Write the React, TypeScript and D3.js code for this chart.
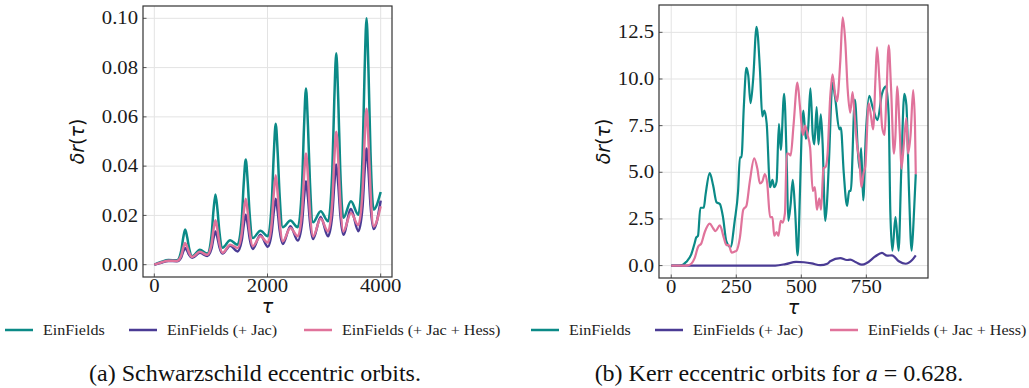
import React, { useRef, useEffect } from 'react';
import * as d3 from 'd3';

// (a) Schwarzschild eccentric orbits
const schwTau = [
  0, 120, 250, 400,
  475, 510, 545, 580, 615, 670, 805, 935,
  1010, 1045, 1080, 1115, 1150, 1205, 1340, 1470,
  1545, 1580, 1615, 1650, 1685, 1740, 1875, 2005,
  2075, 2110, 2145, 2180, 2215, 2270, 2405, 2535,
  2610, 2645, 2680, 2715, 2750, 2805, 2940, 3070,
  3145, 3180, 3215, 3250, 3285, 3340, 3475, 3605,
  3680, 3715, 3750, 3785, 3820, 3875, 4000,
];
const schwEinFields = [
  0, 0.0011, 0.0019, 0.0018,
  0.0056, 0.0108, 0.0143, 0.0112, 0.0067, 0.0034, 0.0061, 0.0045,
  0.0117, 0.0218, 0.0285, 0.0225, 0.0134, 0.0069, 0.0099, 0.0081,
  0.0185, 0.033, 0.0427, 0.0338, 0.0204, 0.0108, 0.0138, 0.0115,
  0.0252, 0.0444, 0.0572, 0.0454, 0.0278, 0.0152, 0.0179, 0.0152,
  0.0321, 0.0557, 0.0715, 0.0563, 0.0335, 0.0172, 0.0217, 0.0176,
  0.0381, 0.0667, 0.0858, 0.0671, 0.039, 0.019, 0.0257, 0.0203,
  0.0442, 0.0777, 0.1, 0.0783, 0.0457, 0.0224, 0.0295,
];
const schwJac = [
  0, 0.0008, 0.0015, 0.0014,
  0.003, 0.0053, 0.0068, 0.0057, 0.004, 0.0028, 0.0048, 0.0035,
  0.0065, 0.0107, 0.0135, 0.011, 0.0072, 0.0045, 0.0077, 0.0054,
  0.0099, 0.0161, 0.0203, 0.0164, 0.0106, 0.0064, 0.0122, 0.0073,
  0.0132, 0.0213, 0.0268, 0.0216, 0.0139, 0.0084, 0.0156, 0.0098,
  0.017, 0.0272, 0.0339, 0.0273, 0.0175, 0.0104, 0.0194, 0.0115,
  0.0203, 0.0325, 0.0407, 0.0327, 0.0208, 0.0122, 0.0226, 0.0136,
  0.0237, 0.0378, 0.0472, 0.038, 0.0243, 0.0145, 0.026,
];
const schwJacHess = [
  0, 0.0009, 0.0016, 0.0015,
  0.0037, 0.0068, 0.0088, 0.0072, 0.0048, 0.0031, 0.0052, 0.004,
  0.0082, 0.0141, 0.018, 0.0143, 0.0088, 0.0048, 0.0081, 0.0068,
  0.0128, 0.0212, 0.0268, 0.0214, 0.0133, 0.0075, 0.0115, 0.009,
  0.0172, 0.0287, 0.0363, 0.0288, 0.0175, 0.0095, 0.0149, 0.0115,
  0.0216, 0.0357, 0.0451, 0.0357, 0.0216, 0.0115, 0.0186, 0.0135,
  0.0257, 0.0427, 0.054, 0.0427, 0.0257, 0.0135, 0.021, 0.016,
  0.0302, 0.0501, 0.0633, 0.0499, 0.0299, 0.0156, 0.0237,
];

// (b) Kerr eccentric orbits, a = 0.628
const kerrTauEinFields = [
  0, 30, 45, 58, 77, 90, 96, 103, 112, 125,
  132, 148, 161, 174, 187, 199, 212, 228, 244, 257,
  264, 270, 279, 289, 296, 305, 315, 328, 341, 350,
  358, 367, 380, 389, 396, 405, 414, 421, 434, 444,
  450, 459, 467, 476, 486, 495, 501, 508, 517, 526,
  535, 544, 550, 559, 566, 575, 582, 592, 598, 606,
  620, 630, 646, 652, 663, 676, 684, 690, 706, 718,
  724, 730, 738, 748, 761, 774, 793, 810, 826, 836,
  842, 850, 862, 874, 884, 896, 904, 914, 924, 932,
  940,
];
const kerrEinFields = [
  0, 0, 0.05, 0.2, 0.6, 1.2, 1.5, 1.6, 3.1, 3.1,
  3.8, 4.95, 4.3, 3.4, 3.3, 2.6, 1.3, 1.0, 2.4, 4.0,
  5.8, 5.8, 8.5, 10.6, 10.2, 8.7, 10.0, 12.8, 10.5, 8.0,
  8.3, 7.6, 4.2, 4.6, 4.2, 4.5, 7.6, 6.2, 9.2, 5.5,
  2.4, 3.3, 4.6, 3.0, 0.55, 4.0, 7.0, 8.3, 6.8, 7.3,
  9.5, 7.0, 6.5, 8.5, 6.5, 8.1, 6.5, 2.4, 3.2, 5.5,
  9.8, 9.0, 7.3, 7.4, 5.0, 3.2, 4.0, 4.0, 8.9, 6.0,
  5.2, 6.3, 3.5, 7.0, 9.1, 8.5, 7.8, 9.2, 9.6, 8.0,
  3.0, 0.8, 2.6, 0.8, 5.0, 9.2, 8.6, 4.0, 0.8, 2.5,
  4.9,
];
const kerrTauJac = [0, 100, 200, 300, 400, 440, 480, 510, 540, 573, 600, 611, 650, 675, 688, 710, 733, 753, 785, 810, 830, 849, 875, 901, 926, 940];
const kerrJac = [0, 0, 0, 0, 0, 0.08, 0.2, 0.18, 0.12, 0.02, 0.1, 0.23, 0.4, 0.3, 0.32, 0.18, 0.05, 0.15, 0.5, 0.68, 0.53, 0.55, 0.23, 0.1, 0.3, 0.55];
const kerrTauJacHess = [
  0, 60, 77, 90, 103, 116, 129, 148, 161, 170,
  187, 202, 212, 221, 232, 244, 251, 264, 277, 289,
  302, 319, 331, 341, 350, 360, 369, 380, 389, 396,
  405, 412, 421, 428, 437, 444, 450, 459, 470, 485,
  495, 506, 515, 524, 534, 544, 552, 560, 569, 576,
  585, 594, 601, 611, 620, 630, 637, 650, 659, 669,
  678, 688, 697, 705, 714, 724, 731, 740, 746, 759,
  768, 776, 785, 791, 800, 811, 820, 827, 836, 845,
  856, 862, 868, 879, 885, 894, 904, 910, 920, 930,
  937, 940,
];
const kerrJacHess = [
  0, 0, 0.1, 0.4, 1.0, 1.2, 1.8, 2.25, 2.0, 1.85,
  2.15, 1.5, 1.1, 1.1, 0.7, 0.75, 0.8, 1.5, 3.0, 3.2,
  4.5, 5.75, 5.2, 4.4, 4.5, 4.9, 4.4, 2.6, 2.6, 1.6,
  1.8, 1.6, 2.4, 2.3, 2.8, 6.0, 6.0, 5.9, 7.5, 9.8,
  8.5, 7.0, 7.5, 7.0, 6.3, 4.0, 4.2, 3.0, 3.6, 3.0,
  5.2, 5.3, 6.0, 9.0, 10.25, 9.2, 8.8, 11.0, 13.3, 12.0,
  9.5, 8.2, 9.3, 8.0, 6.5, 5.5, 4.2, 5.0, 5.3, 8.7,
  8.0, 7.3, 10.0, 11.7, 10.0, 7.4, 7.0, 9.0, 11.8, 9.5,
  6.0, 7.0, 9.6, 7.0, 5.2, 6.5, 7.9, 6.0, 7.0, 9.4,
  7.5, 4.9,
];

const seriesNames = ['EinFields', 'EinFields (+ Jac)', 'EinFields (+ Jac + Hess)'];
const seriesColors = ['#0b8a87', '#4a3b94', '#e0739b'];

const schwXTicks = [0, 2000, 4000];
const schwYTicks = [0, 0.02, 0.04, 0.06, 0.08, 0.1];
const kerrXTicks = [0, 250, 500, 750];
const kerrYTicks = [0, 2.5, 5, 7.5, 10, 12.5];

// the wide serif of the original isn't available; stretch Liberation Serif a bit
const serifFont = "'Liberation Serif', serif";
const stretch = 1.15;

type Series = { tau: number[]; val: number[]; color: string };

const drawPanel = (
  svg: d3.Selection<SVGSVGElement, unknown, null, undefined>,
  box: { x0: number; x1: number; y0: number; y1: number },
  series: Series[],
  xTicks: number[],
  yTicks: number[],
  yFmt: (n: number) => string,
  lineWidth: number,
  yLabelGap: number,
) => {
  // matplotlib-like 5% margins
  const allTau = series.flatMap(s => s.tau);
  const allVal = series.flatMap(s => s.val);
  const [tx0, tx1] = d3.extent(allTau) as [number, number];
  const [vy0, vy1] = d3.extent(allVal) as [number, number];
  const mx = (tx1 - tx0) * 0.05;
  const my = (vy1 - vy0) * 0.05;

  const x = d3.scaleLinear().domain([tx0 - mx, tx1 + mx]).range([box.x0, box.x1]);
  const y = d3.scaleLinear().domain([vy0 - my, vy1 + my]).range([box.y1, box.y0]);

  const g = svg.append('g');

  // grid
  g.selectAll('.gx').data(xTicks).enter().append('line')
    .attr('x1', d => x(d)).attr('x2', d => x(d))
    .attr('y1', box.y0).attr('y2', box.y1)
    .attr('stroke', '#e3e3e3').attr('stroke-width', 1);
  g.selectAll('.gy').data(yTicks).enter().append('line')
    .attr('x1', box.x0).attr('x2', box.x1)
    .attr('y1', d => y(d)).attr('y2', d => y(d))
    .attr('stroke', '#e3e3e3').attr('stroke-width', 1);

  // lines
  const line = d3.line<[number, number]>()
    .x(d => x(d[0]))
    .y(d => y(d[1]))
    .curve(d3.curveMonotoneX);

  series.forEach(s => {
    const pts = s.tau.map((t, i) => [t, s.val[i]] as [number, number]);
    g.append('path')
      .attr('d', line(pts))
      .attr('fill', 'none')
      .attr('stroke', s.color)
      .attr('stroke-width', lineWidth)
      .attr('stroke-linejoin', 'round');
  });

  // frame
  g.append('rect')
    .attr('x', box.x0).attr('y', box.y0)
    .attr('width', box.x1 - box.x0).attr('height', box.y1 - box.y0)
    .attr('fill', 'none').attr('stroke', '#333').attr('stroke-width', 1.2);

  // ticks pointing inward
  g.selectAll('.tx').data(xTicks).enter().append('line')
    .attr('x1', d => x(d)).attr('x2', d => x(d))
    .attr('y1', box.y1).attr('y2', box.y1 - 3.5)
    .attr('stroke', '#333').attr('stroke-width', 0.8);
  g.selectAll('.ty').data(yTicks).enter().append('line')
    .attr('x1', box.x0).attr('x2', box.x0 + 3.5)
    .attr('y1', d => y(d)).attr('y2', d => y(d))
    .attr('stroke', '#333').attr('stroke-width', 0.8);

  g.selectAll('.lx').data(xTicks).enter().append('text')
    .attr('transform', d => `translate(${x(d)}, ${box.y1 + 15}) scale(${stretch}, 1)`)
    .attr('text-anchor', 'middle')
    .style('font-family', serifFont).style('font-size', '18px').attr('fill', '#1a1a1a')
    .text(d => d3.format('d')(d));
  g.selectAll('.ly').data(yTicks).enter().append('text')
    .attr('transform', d => `translate(${box.x0 - 5}, ${y(d)}) scale(${stretch}, 1)`)
    .attr('dy', '0.34em')
    .attr('text-anchor', 'end')
    .style('font-family', serifFont).style('font-size', '18px').attr('fill', '#1a1a1a')
    .text(d => yFmt(d));

  // axis labels
  g.append('text')
    .attr('x', (box.x0 + box.x1) / 2).attr('y', box.y1 + 36)
    .attr('text-anchor', 'middle')
    .style('font-family', 'DejaVu Sans').style('font-size', '19px').style('font-style', 'italic')
    .attr('fill', '#111')
    .text('τ');

  const yl = g.append('text')
    .attr('transform', `translate(${box.x0 - yLabelGap}, ${(box.y0 + box.y1) / 2}) rotate(-90)`)
    .attr('text-anchor', 'middle')
    .style('font-family', 'DejaVu Sans').style('font-size', '19px')
    .attr('fill', '#111');
  yl.append('tspan').style('font-style', 'italic').text('δr');
  yl.append('tspan').text('(');
  yl.append('tspan').style('font-style', 'italic').text('τ');
  yl.append('tspan').text(')');
};

const drawLegend = (
  svg: d3.Selection<SVGSVGElement, unknown, null, undefined>,
  x0: number,
  yc: number,
) => {
  const offsets = [0, 124, 299];
  const lg = svg.append('g').attr('transform', `translate(${x0}, ${yc})`);
  const items = lg.selectAll('.item').data(seriesNames).enter().append('g')
    .attr('transform', (d, i) => `translate(${offsets[i]}, 0)`);
  items.append('line')
    .attr('x1', 0).attr('x2', 28).attr('y1', 0).attr('y2', 0)
    .attr('stroke', (d, i) => seriesColors[i]).attr('stroke-width', 2.5);
  items.append('text')
    .attr('transform', `translate(38, 0) scale(${stretch}, 1)`)
    .attr('dy', '0.33em')
    .style('font-family', serifFont).style('font-size', '14px').attr('fill', '#222')
    .text(d => d);
};

const App = () => {
  const svgRef = useRef<SVGSVGElement>(null);

  useEffect(() => {
    const svg = d3.select(svgRef.current as SVGSVGElement);
    svg.selectAll('*').remove();

    drawPanel(
      svg,
      { x0: 143, x1: 392, y0: 6, y1: 277 },
      [
        { tau: schwTau, val: schwEinFields, color: seriesColors[0] },
        { tau: schwTau, val: schwJac, color: seriesColors[1] },
        { tau: schwTau, val: schwJacHess, color: seriesColors[2] },
      ],
      schwXTicks, schwYTicks, d3.format('.2f'), 2.5, 59,
    );

    drawPanel(
      svg,
      { x0: 659, x1: 928, y0: 5, y1: 278 },
      [
        { tau: kerrTauEinFields, val: kerrEinFields, color: seriesColors[0] },
        { tau: kerrTauJac, val: kerrJac, color: seriesColors[1] },
        { tau: kerrTauJacHess, val: kerrJacHess, color: seriesColors[2] },
      ],
      kerrXTicks, kerrYTicks, d3.format('.1f'), 2.2, 49,
    );

    drawLegend(svg, 5, 330);
    drawLegend(svg, 531, 330);

    // captions
    svg.append('text')
      .attr('x', 255).attr('y', 381).attr('text-anchor', 'middle')
      .style('font-family', 'Liberation Serif').style('font-size', '24px').attr('fill', '#111')
      .text('(a) Schwarzschild eccentric orbits.');
    const cb = svg.append('text')
      .attr('x', 779).attr('y', 381).attr('text-anchor', 'middle')
      .style('font-family', 'Liberation Serif').style('font-size', '24px').attr('fill', '#111');
    cb.append('tspan').text('(b) Kerr eccentric orbits for ');
    cb.append('tspan').style('font-style', 'italic').text('a');
    cb.append('tspan').text(' = 0.628.');
  }, []);

  return (
    <svg
      ref={svgRef}
      width={1029}
      height={388}
      style={{ position: 'absolute', left: 0, top: 0, background: '#fff' }}
    />
  );
};

export default App;
